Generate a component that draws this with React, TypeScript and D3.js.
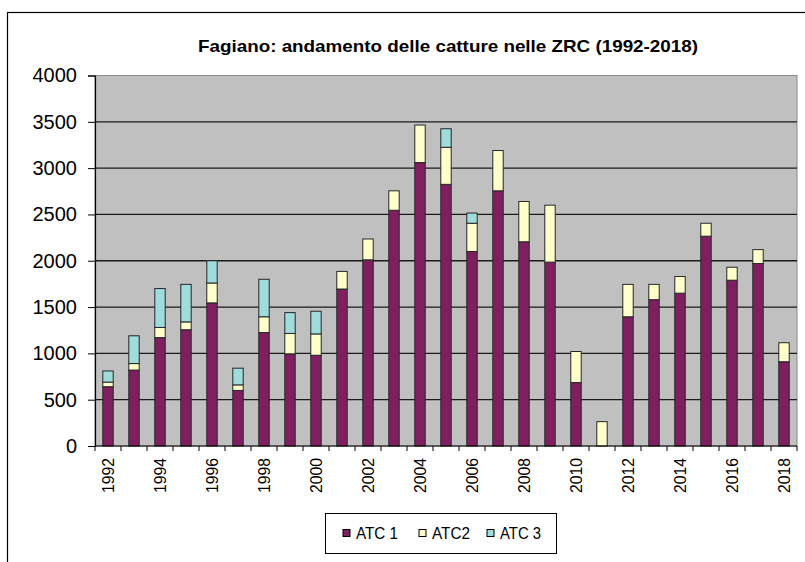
import { useEffect, useRef } from 'react'
import * as d3 from 'd3'

const years = d3.range(1992, 2019).map(String)
const atc1 = [640, 820, 1170, 1255, 1545, 600, 1225, 995, 980, 1695, 2010, 2545, 3060, 2825, 2100, 2755, 2205, 1985, 685, 0, 1395, 1580, 1650, 2265, 1790, 1970, 910]
const atc2 = [50, 70, 110, 85, 215, 60, 170, 220, 230, 190, 225, 210, 405, 400, 305, 435, 435, 615, 335, 263, 350, 165, 180, 140, 140, 150, 205]
const atc3 = [120, 300, 420, 405, 240, 180, 405, 225, 245, 0, 0, 0, 0, 200, 110, 0, 0, 0, 0, 0, 0, 0, 0, 0, 0, 0, 0]
const seriesNames = ['ATC 1', 'ATC2', 'ATC 3']
const colors = ['#7f1f60', '#ffffcc', '#a0dcdc']
const yTicks = [0, 500, 1000, 1500, 2000, 2500, 3000, 3500, 4000]

export default function App() {
    const svgRef = useRef<SVGSVGElement>(null)

    useEffect(() => {
        document.body.style.margin = '0'
        const svg = d3.select(svgRef.current)
        svg.selectAll('*').remove()

        const margin = { top: 75.5, right: 8, bottom: 116, left: 95 }
        const width = 805, height = 562
        const innerW = width - margin.left - margin.right
        const innerH = height - margin.top - margin.bottom
        const font = 'Liberation Sans, Arial, sans-serif'

        // outer frame
        svg.append('rect')
            .attr('x', 7.5).attr('y', 12.5)
            .attr('width', 820).attr('height', 600)
            .attr('fill', '#fff').attr('stroke', '#000').attr('stroke-width', 1.2)

        svg.append('text')
            .attr('x', 448).attr('y', 51.5)
            .attr('text-anchor', 'middle')
            .attr('font-family', font).attr('font-weight', 'bold').attr('font-size', 17)
            .attr('textLength', 500).attr('lengthAdjust', 'spacingAndGlyphs')
            .text('Fagiano: andamento delle catture nelle ZRC (1992-2018)')

        const x = d3.scaleBand().domain(years).range([0, innerW]).paddingInner(0.6).paddingOuter(0.3)
        const y = d3.scaleLinear().domain([0, 4000]).range([innerH, 0])

        const g = svg.append('g').attr('transform', `translate(${margin.left},${margin.top})`)

        g.append('rect')
            .attr('width', innerW).attr('height', innerH)
            .attr('fill', '#c0c0c0').attr('stroke', '#8a8a8a').attr('stroke-width', 1)

        g.selectAll('.grid')
            .data(yTicks.filter(t => t > 0 && t < 4000))
            .enter().append('line')
            .attr('x1', 0).attr('x2', innerW)
            .attr('y1', d => y(d)).attr('y2', d => y(d))
            .attr('stroke', '#1a1a1a').attr('stroke-width', 1.3)

        const rows = years.map((yr, i) => ({ year: yr, a: atc1[i], b: atc2[i], c: atc3[i] }))
        const stacked = d3.stack<any>().keys(['a', 'b', 'c'])(rows)

        stacked.forEach((layer, li) => {
            g.selectAll(`.bar${li}`)
                .data(layer.filter(d => d[1] - d[0] > 0))
                .enter().append('rect')
                .attr('x', d => x(d.data.year)!)
                .attr('width', x.bandwidth())
                .attr('y', d => y(d[1]))
                .attr('height', d => y(d[0]) - y(d[1]))
                .attr('fill', colors[li])
                .attr('stroke', '#262626').attr('stroke-width', 1)
        })

        // y axis
        const yAxis = g.append('g')
            .call(d3.axisLeft(y).tickValues(yTicks).tickSize(7).tickPadding(11).tickFormat(d3.format('d')))
        yAxis.select('.domain').attr('stroke', '#000').attr('stroke-width', 1.2)
        yAxis.selectAll('line').attr('stroke', '#000')
        yAxis.selectAll('text')
            .attr('font-family', font).attr('font-size', 20).attr('fill', '#000')

        // x axis
        g.append('line')
            .attr('x1', 0).attr('x2', innerW).attr('y1', innerH).attr('y2', innerH)
            .attr('stroke', '#000').attr('stroke-width', 1.2)
        const step = x.step()
        g.selectAll('.xtick')
            .data(d3.range(years.length + 1))
            .enter().append('line')
            .attr('x1', i => i * step).attr('x2', i => i * step)
            .attr('y1', innerH).attr('y2', innerH + 5)
            .attr('stroke', '#000')
        g.selectAll('.xlabel')
            .data(years.filter((_, i) => i % 2 === 0))
            .enter().append('text')
            .attr('transform', d => `translate(${x(d)! + x.bandwidth() / 2 + 5.5},${innerH + 12}) rotate(-90)`)
            .attr('text-anchor', 'end')
            .attr('font-family', font).attr('font-size', 17)
            .attr('textLength', 35).attr('lengthAdjust', 'spacingAndGlyphs')
            .text(d => d)

        // legend
        const lg = svg.append('g')
        lg.append('rect')
            .attr('x', 325.5).attr('y', 513.5).attr('width', 231).attr('height', 40)
            .attr('fill', '#fff').attr('stroke', '#000').attr('stroke-width', 1)
        const legendX = [343, 419, 487]
        const textLens = [42, 38, 41]
        seriesNames.forEach((name, i) => {
            lg.append('rect')
                .attr('x', legendX[i]).attr('y', 529.5).attr('width', 7).attr('height', 7)
                .attr('fill', colors[i]).attr('stroke', '#000').attr('stroke-width', 1)
            lg.append('text')
                .attr('x', legendX[i] + 13).attr('y', 539)
                .attr('font-family', font).attr('font-size', 16)
                .attr('textLength', textLens[i]).attr('lengthAdjust', 'spacingAndGlyphs')
                .text(name)
        })
    }, [])

    return <svg ref={svgRef} width={805} height={562} style={{ display: 'block' }} />
}
